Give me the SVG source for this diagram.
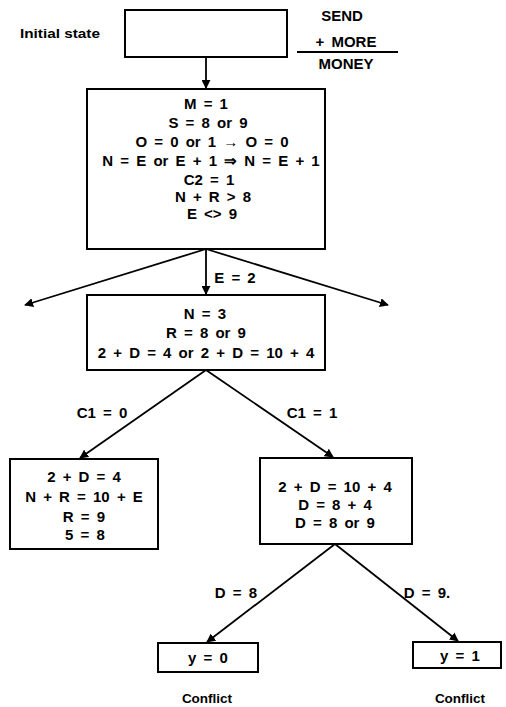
<svg xmlns="http://www.w3.org/2000/svg" width="506" height="707" viewBox="0 0 506 707">
<style>
.box{fill:#fff;stroke:#000;stroke-width:2}
.t{font-family:"Liberation Sans",Arial,sans-serif;font-weight:bold;font-size:15px;word-spacing:3px;fill:#000;text-anchor:middle}
.s{font-family:"Liberation Sans",Arial,sans-serif;font-weight:bold;font-size:13.5px;fill:#000}
.c{fill:none;stroke:#000;stroke-width:1.8}
</style>
<defs>
<marker id="ah" viewBox="0 0 10 10" refX="9" refY="5" markerWidth="5" markerHeight="5" orient="auto" markerUnits="strokeWidth">
<path d="M0,0 L10,5 L0,10 z" fill="#000"/>
</marker>
</defs>
<rect width="506" height="707" fill="#fff"/>
<text class="s" x="20" y="38" textLength="80" lengthAdjust="spacingAndGlyphs">Initial state</text>
<g id="sum">
<text class="t" x="342" y="21">SEND</text>
<text class="t" x="346" y="47">+ MORE</text>
<line x1="297" y1="52" x2="398" y2="52" stroke="#000" stroke-width="2"/>
<text class="t" x="346" y="69">MONEY</text>
</g>
<g id="connectors">
<line class="c" x1="206" y1="57" x2="206" y2="88" marker-end="url(#ah)"/>
<line class="c" x1="206" y1="249" x2="206" y2="294" marker-end="url(#ah)"/>
<line class="c" x1="206" y1="249" x2="25" y2="305" marker-end="url(#ah)"/>
<line class="c" x1="206" y1="249" x2="388" y2="305" marker-end="url(#ah)"/>
<line class="c" x1="206" y1="370" x2="80" y2="458" marker-end="url(#ah)"/>
<line class="c" x1="206" y1="370" x2="333" y2="457" marker-end="url(#ah)"/>
<line class="c" x1="335" y1="544" x2="207" y2="642" marker-end="url(#ah)"/>
<line class="c" x1="335" y1="544" x2="458" y2="641" marker-end="url(#ah)"/>
<text class="t" x="235" y="283">E = 2</text>
<text class="t" x="102" y="418">C1 = 0</text>
<text class="t" x="312" y="418">C1 = 1</text>
<text class="t" x="236" y="598">D = 8</text>
<text class="t" x="427" y="598">D = 9.</text>
</g>
<g id="initial">
<rect class="box" x="125" y="10" width="162" height="47"/>
</g>
<g id="n1">
<rect class="box" x="87" y="89" width="238" height="160"/>
<text class="t" x="206" y="109">M = 1</text>
<text class="t" x="208" y="128">S = 8 or 9</text>
<text class="t" x="212" y="147">O = 0 or 1 → O = 0</text>
<text class="t" x="211" y="166">N = E or E + 1 ⇒ N = E + 1</text>
<text class="t" x="209" y="185">C2 = 1</text>
<text class="t" x="213" y="202">N + R &gt; 8</text>
<text class="t" x="212" y="219">E &lt;&gt; 9</text>
</g>
<g id="n2">
<rect class="box" x="87" y="295" width="238" height="75"/>
<text class="t" x="205" y="319">N = 3</text>
<text class="t" x="206" y="338">R = 8 or 9</text>
<text class="t" x="206" y="358">2 + D = 4 or 2 + D = 10 + 4</text>
</g>
<g id="n3">
<rect class="box" x="10" y="459" width="148" height="90"/>
<text class="t" x="84" y="482">2 + D = 4</text>
<text class="t" x="84" y="502">N + R = 10 + E</text>
<text class="t" x="84" y="522">R = 9</text>
<text class="t" x="85" y="540">5 = 8</text>
</g>
<g id="n4">
<rect class="box" x="260" y="458" width="152" height="86"/>
<text class="t" x="335" y="492">2 + D = 10 + 4</text>
<text class="t" x="335" y="510">D = 8 + 4</text>
<text class="t" x="335" y="528">D = 8 or 9</text>
</g>
<g id="n5">
<rect class="box" x="158" y="643" width="100" height="29"/>
<text class="t" x="208" y="663">y = 0</text>
<text class="s" x="207" y="703" text-anchor="middle">Conflict</text>
</g>
<g id="n6">
<rect class="box" x="413" y="642" width="88" height="26"/>
<text class="t" x="460" y="661">y = 1</text>
<text class="s" x="460" y="703" text-anchor="middle">Conflict</text>
</g>
</svg>
